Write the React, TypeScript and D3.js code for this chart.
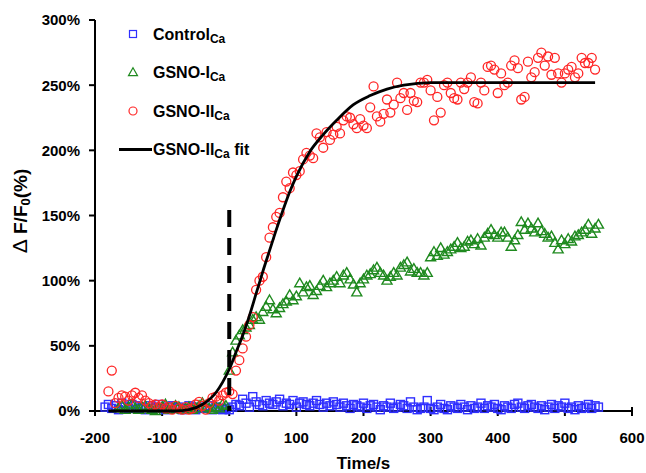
import React from 'react';
import * as d3 from 'd3';

// sampling: one reading every 5 s, series start at different times
const STEP = 5;
const controlStart = -185;
const gsnoIStart = -165;
const gsnoIIStart = -180;

const controlValues = [
  3, 5, 2, 4, 1, 6, 3, 2, 5, 4, 2, 3, 1, 4, 2, 3, 5, 2, 1, 3, 4, 2, 3, 1, 2, 4, 3, 1, 2, 3, 2, 4, 1, 3, 2, 1, 2,
  1, 3, 5, 4, 9, 6, 3, 11, 7, 5, 4, 8, 6, 5, 7, 9, 4, 6, 5, 8, 3, 6, 7, 5, 4, 6, 8, 5, 3, 6,
  4, 7, 5, 3, 6, 4, 2, 5, 4, 3, 6, 2, 4, 5, 3, 1, 4, 3, 6, 2, 3, 5, 4, 2, 7, 3, 1, 2, 3, 8,
  2, 1, 3, 5, 2, 1, 4, 3, 2, 5, 3, 1, 4, 2, 3, 6, 2, 4, 3, 5, 2, 1, 4, 3, 2, 5, 6, 3, 2, 4,
  5, 3, 2, 4, 1, 3, 5, 2, 4, 3, 6, 2, 3, 1, 4, 2, 3, 5, 2, 4, 3,
];

const gsnoIValues = [
  2, 4, 1, 3, 5, 2, 1, 3, 4, 2, 1, 0, 2, 3, 5, 1, 2, 4, 3, 1, 2, 3, 1, 2, 4, 6, 3, 2, 1, 3, 2, 5, 4,
  31, 45, 54, 58, 62, 64, 66, 70, 72, 70, 76, 80, 85, 78, 75, 79, 82, 84, 89, 85,
  88, 98, 91, 95, 96, 89, 92, 96, 100, 95, 98, 100, 103, 98, 104, 106, 101, 97, 91, 98,
  101, 104, 105, 108, 110, 106, 104, 100, 103, 106, 104, 110, 112, 114, 107, 109, 106, 106, 104, 106,
  118, 122, 119, 125, 120, 122, 124, 126, 129, 125, 126, 130, 131, 128, 132, 127, 133, 136, 139, 135,
  133, 137, 137, 133, 126, 131, 135, 145, 139, 144, 140, 137, 144, 138, 136, 133, 134, 129, 124, 131,
  128, 132, 130, 134, 135, 137, 139, 143, 136, 140, 143,
];

const gsnoIIValues = [
  15, 31, 6, 10, 12, 11, 8, 12, 14, 10, 12, 8, 6, 4, 5, 3, 5, 2, 3, 1,
  4, 2, 1, 3, 1, 2, 5, 7, 4, 1, 6, 10, 11, 8, 12, 14, 15, 13, 31, 39,
  48, 57, 66, 72, 93, 100, 103, 118, 133, 141, 149, 152, 164, 176, 171, 183, 181, 184, 193, 198,
  196, 194, 213, 210, 202, 214, 208, 212,
  218, 213, 223, 226, 225, 220, 217, 224, 219, 217, 233, 249, 226, 222, 228, 239, 229, 235, 252, 240,
  244, 231, 244, 238, 237, 252, 252, 254, 246, 223, 241, 229, 250, 252, 244, 240, 239, 252, 247, 252,
  256, 237, 236, 252, 246, 264, 265, 262, 244, 259, 250, 252, 265, 269, 263, 239, 241, 268, 256, 260,
  271, 275, 265, 272, 258, 271, 259, 252, 259, 262, 264, 256, 259, 271, 267, 267, 271, 262,
];

const fitTimes = [-180, -80, -60, -40, -20, -10, 0, 10, 20, 30, 40, 50, 60, 70, 80, 90, 100, 120, 140, 160, 185, 210, 235, 260, 300, 400, 545];
const fitValues = [0, 0, 1, 5, 14, 22, 32, 45, 58, 73, 90, 107, 123, 139, 154, 168, 180, 199, 212, 223, 235, 242, 247, 250, 252, 252, 252];

const xTicks = [-200, -100, 0, 100, 200, 300, 400, 500, 600];
const yTicks = [0, 50, 100, 150, 200, 250, 300];

const W = 646;
const H = 473;
const FONT = 'Liberation Sans, Arial, sans-serif';

const toPoints = (start: number, values: number[]) =>
  values.map((v, i) => ({ t: start + i * STEP, v }));

export default function App() {
  const x = d3.scaleLinear().domain([-200, 600]).range([95, 632]);
  const y = d3.scaleLinear().domain([0, 300]).range([411, 20]);

  const fitLine = d3
    .line<number>()
    .x((_, i) => x(fitTimes[i]))
    .y((d) => y(d))
    .curve(d3.curveMonotoneX);

  const tri = (cx: number, cy: number, s = 10) => {
    const h = s * 0.87;
    return `M${cx},${cy - h * 0.6}L${cx + s / 2},${cy + h * 0.4}L${cx - s / 2},${cy + h * 0.4}Z`;
  };

  const blue = '#2f2fff';
  const green = '#1f8a1f';
  const red = '#ff2626';

  const legend = [
    { label: 'Control', sub: 'Ca', suffix: '', kind: 'square' },
    { label: 'GSNO-I', sub: 'Ca', suffix: '', kind: 'tri' },
    { label: 'GSNO-II', sub: 'Ca', suffix: '', kind: 'circle' },
    { label: 'GSNO-II', sub: 'Ca', suffix: ' fit', kind: 'line' },
  ];

  return (
    <svg width={W} height={H} style={{ position: 'absolute', left: 0, top: 0, background: '#fff' }} fontFamily={FONT}>
      {/* axes */}
      <line x1={x(-200)} x2={x(-200)} y1={y(300)} y2={y(0)} stroke="#000" strokeWidth={2} />
      <line x1={x(-200)} x2={x(600)} y1={y(0)} y2={y(0)} stroke="#000" strokeWidth={2} />
      {yTicks.map((t) => (
        <g key={'y' + t}>
          <line x1={x(-200) - 6} x2={x(-200)} y1={y(t)} y2={y(t)} stroke="#000" strokeWidth={2} />
          <text x={80} y={y(t)} dy="0.36em" textAnchor="end" fontSize={15} fontWeight="bold">
            {t}%
          </text>
        </g>
      ))}
      {xTicks.map((t) => (
        <g key={'x' + t}>
          <line x1={x(t)} x2={x(t)} y1={y(0) - 4} y2={y(0) + 5} stroke="#000" strokeWidth={2} />
          <text x={x(t)} y={443} textAnchor="middle" fontSize={15} fontWeight="bold">
            {t}
          </text>
        </g>
      ))}
      <text x={(x(-200) + x(600)) / 2} y={469} textAnchor="middle" fontSize={17} fontWeight="bold">
        Time/s
      </text>
      <text transform="translate(27,211) rotate(-90)" textAnchor="middle" fontSize={19} fontWeight="bold">
        <tspan fontWeight="normal" fontSize={21}>Δ</tspan> F/F<tspan fontSize={13} dy={3}>0</tspan>
        <tspan dy={-3}>(%)</tspan>
      </text>

      {/* data */}
      {toPoints(controlStart, controlValues).map((p, i) => (
        <rect key={'c' + i} x={x(p.t) - 4} y={y(p.v) - 4} width={8} height={8} fill="none" stroke={blue} strokeWidth={1.4} />
      ))}
      {toPoints(gsnoIStart, gsnoIValues).map((p, i) => (
        <path key={'g' + i} d={tri(x(p.t), y(p.v))} fill="none" stroke={green} strokeWidth={1.4} />
      ))}
      {toPoints(gsnoIIStart, gsnoIIValues).map((p, i) => (
        <circle key={'r' + i} cx={x(p.t)} cy={y(p.v)} r={4.5} fill="none" stroke={red} strokeWidth={1.3} />
      ))}
      <path d={fitLine(fitValues) || ''} fill="none" stroke="#000" strokeWidth={2.8} />
      <line x1={x(0)} x2={x(0)} y1={210} y2={y(0)} stroke="#000" strokeWidth={4} strokeDasharray="17,11" />

      {/* legend */}
      {legend.map((l, i) => {
        const ly = 34 + i * 38.5;
        return (
          <g key={'l' + i}>
            {l.kind === 'square' && <rect x={129.5} y={ly - 3.5} width={7} height={7} fill="none" stroke={blue} strokeWidth={1.2} />}
            {l.kind === 'tri' && <path d={tri(133, ly, 9)} fill="none" stroke={green} strokeWidth={1.2} />}
            {l.kind === 'circle' && <circle cx={133} cy={ly} r={4} fill="none" stroke={red} strokeWidth={1.2} />}
            {l.kind === 'line' && <line x1={119} x2={152} y1={ly} y2={ly} stroke="#000" strokeWidth={2.8} />}
            <text x={153} y={ly} dy="0.36em" fontSize={16} fontWeight="bold">
              {l.label}
              <tspan fontSize={12} dy={3}>{l.sub}</tspan>
              {l.suffix && <tspan dy={-3}>{l.suffix}</tspan>}
            </text>
          </g>
        );
      })}
    </svg>
  );
}
